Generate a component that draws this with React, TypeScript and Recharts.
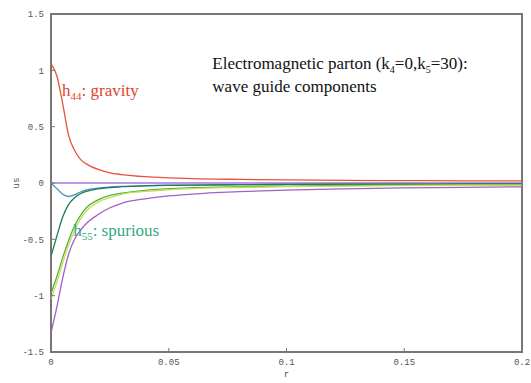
import { LineChart, Line, XAxis, YAxis, ReferenceDot, ReferenceArea } from "recharts";

// radial grid (r) shared by all curves
const R = [0, 0.0025, 0.005, 0.0075, 0.01, 0.0125, 0.015, 0.02, 0.025, 0.03, 0.04, 0.05, 0.06, 0.08, 0.1, 0.125, 0.15, 0.175, 0.2];

const H44 = [1.06, 0.95, 0.7, 0.42, 0.29, 0.21, 0.17, 0.12, 0.09, 0.075, 0.056, 0.046, 0.039, 0.032, 0.027, 0.023, 0.021, 0.019, 0.018];
const FLAT = [0, 0, 0, 0, 0, 0, 0, 0, 0, 0, 0, 0, 0, 0, 0, 0, 0, 0, 0];
const DIP = [0, -0.05, -0.1, -0.12, -0.105, -0.08, -0.062, -0.045, -0.036, -0.03, -0.024, -0.02, -0.018, -0.015, -0.013, -0.011, -0.01, -0.009, -0.008];
const H55 = [-0.65, -0.47, -0.3, -0.19, -0.13, -0.095, -0.075, -0.052, -0.04, -0.033, -0.025, -0.021, -0.018, -0.015, -0.013, -0.011, -0.01, -0.009, -0.008];
const GREEN = [-0.98, -0.83, -0.66, -0.51, -0.38, -0.29, -0.22, -0.15, -0.11, -0.09, -0.065, -0.05, -0.042, -0.033, -0.027, -0.022, -0.019, -0.017, -0.015];
const LIME = [-1.03, -0.88, -0.71, -0.55, -0.42, -0.32, -0.25, -0.17, -0.13, -0.1, -0.075, -0.06, -0.05, -0.04, -0.033, -0.027, -0.023, -0.02, -0.018];
const VIOLET = [-1.33, -1.1, -0.84, -0.63, -0.5, -0.42, -0.36, -0.28, -0.22, -0.18, -0.14, -0.115, -0.098, -0.077, -0.063, -0.052, -0.044, -0.038, -0.034];

const X_TICKS = [0, 0.05, 0.1, 0.15, 0.2];
const Y_TICKS = [-1.5, -1, -0.5, 0, 0.5, 1, 1.5];

const SERIES = [
  { key: "h44", values: H44, color: "#e8513c" },
  { key: "flat", values: FLAT, color: "#a277e0" },
  { key: "dip", values: DIP, color: "#4b8db5" },
  { key: "h55", values: H55, color: "#237a5a" },
  { key: "green", values: GREEN, color: "#55b235" },
  { key: "lime", values: LIME, color: "#c9dd5c" },
  { key: "violet", values: VIOLET, color: "#a35fc9" },
];

const data = R.map((r, i) => {
  const row: Record<string, number> = { r };
  for (const s of SERIES) row[s.key] = s.values[i];
  return row;
});

const AXIS = "#7a7670";
const tickFont = { fontSize: 9, fill: "#555", fontFamily: "'Liberation Mono', monospace" };
const SERIF = "'Liberation Serif', 'Times New Roman', serif";

function Sub({ main, sub, rest }: { main: string; sub: string; rest: string }) {
  return (
    <>
      <tspan>{main}</tspan>
      <tspan dy={4} fontSize={11}>{sub}</tspan>
      <tspan dy={-4}>{rest}</tspan>
    </>
  );
}

function anchor(props: any) {
  const vb = props.viewBox || { x: 0, y: 0, width: 0, height: 0 };
  return { x: vb.x + vb.width / 2, y: vb.y + vb.height / 2 };
}

export default function App() {
  return (
    <div style={{ position: "absolute", left: 0, top: 0, background: "#fff" }}>
      <LineChart
        width={531}
        height={383}
        data={data}
        margin={{ top: 13, right: 8, bottom: 0, left: 0 }}
      >
        <ReferenceArea x1={0} x2={0.2} y1={-1.5} y2={1.5} fill="none" stroke={AXIS} strokeWidth={2} ifOverflow="visible" />
        <XAxis
          dataKey="r"
          type="number"
          domain={[0, 0.2]}
          ticks={X_TICKS}
          height={31}
          stroke={AXIS}
          tickSize={-4}
          tickMargin={11}
          tick={tickFont}
          tickFormatter={(v) => String(v)}
          label={{ value: "r", position: "insideBottom", offset: 6, style: tickFont }}
        />
        <XAxis xAxisId="top" orientation="top" type="number" domain={[0, 0.2]} ticks={X_TICKS} height={1} stroke={AXIS} tickSize={-4} tick={false} />
        <YAxis
          type="number"
          domain={[-1.5, 1.5]}
          ticks={Y_TICKS}
          width={51}
          stroke={AXIS}
          tickSize={-4}
          tickMargin={11}
          tick={tickFont}
          tickFormatter={(v) => String(v)}
          label={{
            content: (p: any) => {
              const vb = p.viewBox;
              const x = vb.x + 17;
              const y = vb.y + vb.height / 2;
              return (
                <text x={x} y={y} transform={`rotate(-90 ${x} ${y})`} textAnchor="middle" dominantBaseline="middle" style={tickFont}>
                  us
                </text>
              );
            },
          }}
        />
        <YAxis yAxisId="right" orientation="right" type="number" domain={[-1.5, 1.5]} ticks={Y_TICKS} width={1} stroke={AXIS} tickSize={-4} tick={false} />
        {SERIES.map((s) => (
          <Line key={s.key} dataKey={s.key} type="monotone" stroke={s.color} strokeWidth={1.3} dot={false} isAnimationActive={false} />
        ))}
        <ReferenceDot
          x={0.0047}
          y={0.77}
          r={1}
          fill="none"
          stroke="none"
          label={{
            content: (p: any) => {
              const { x, y } = anchor(p);
              return (
                <text x={x} y={y} fill="#e0442e" style={{ fontFamily: SERIF, fontSize: 17 }}>
                  <Sub main="h" sub="44" rest=": gravity" />
                </text>
              );
            },
          }}
        />
        <ReferenceDot
          x={0.0094}
          y={-0.47}
          r={1}
          fill="none"
          stroke="none"
          label={{
            content: (p: any) => {
              const { x, y } = anchor(p);
              return (
                <text x={x} y={y} fill="#35a888" style={{ fontFamily: SERIF, fontSize: 17 }}>
                  <Sub main="h" sub="55" rest=": spurious" />
                </text>
              );
            },
          }}
        />
        <ReferenceDot
          x={0.0685}
          y={1.01}
          r={1}
          fill="none"
          stroke="none"
          label={{
            content: (p: any) => {
              const { x, y } = anchor(p);
              return (
                <text x={x} y={y} fill="#111" style={{ fontFamily: SERIF, fontSize: 17 }}>
                  <tspan>Electromagnetic parton (k</tspan>
                  <tspan dy={4} fontSize={10}>4</tspan>
                  <tspan dy={-4}>=0,k</tspan>
                  <tspan dy={4} fontSize={10}>5</tspan>
                  <tspan dy={-4}>=30):</tspan>
                  <tspan x={x} dy={23}>wave guide components</tspan>
                </text>
              );
            },
          }}
        />
      </LineChart>
    </div>
  );
}
